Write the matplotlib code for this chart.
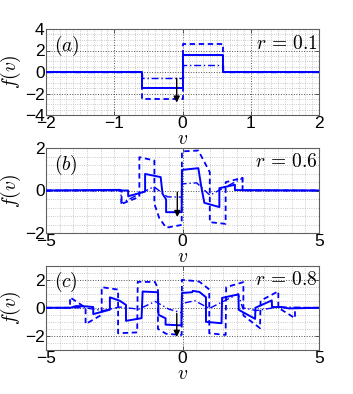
import numpy as np
import matplotlib
matplotlib.use("Agg")
import matplotlib.pyplot as plt
from matplotlib.ticker import MultipleLocator, FixedLocator

plt.rcParams['mathtext.fontset'] = 'cm'
plt.rcParams['font.family'] = ['Liberation Sans', 'DejaVu Sans']

# ---------------- data ----------------
# panel (a), r = 0.1
a_v_solid = [-2, -0.6, -0.6, 0.0, 0.0, 0.6, 0.6, 2]
a_f_solid = [0, 0, -1.45, -1.45, 1.55, 1.55, 0, 0]
a_v_dash = [-2, -0.6, -0.6, 0.0, 0.0, 0.6, 0.6, 2]
a_f_dash = [0, 0, -2.55, -2.55, 2.58, 2.58, 0, 0]
a_v_dd = [-2, -0.6, -0.6, 0.0, 0.0, 0.6, 0.6, 2]
a_f_dd = [0, 0, -0.59, -0.59, 0.62, 0.62, 0, 0]

# panel (b), r = 0.6
b_v_solid = [-5, -2.3, -2.3, -1.99, -1.99, -1.37, -1.37, -0.80, -0.73, -0.60, -0.60,
             -0.03, -0.02, 0.58, 0.68, 0.80, 1.35, 1.35, 1.92, 1.92, 5]
b_f_solid = [0, 0.03, 0.0, 0.0, -0.27, -0.05, 0.78, 0.63, -0.16, -0.42, -1.02,
             -1.02, 0.97, 1.05, 0.24, -0.58, -0.78, 0.11, 0.27, 0.02, 0]
b_v_dash = [-5, -2.23, -2.23, -1.58, -1.58, -1.03, -1.03, -0.85, -0.60, -0.03, -0.02,
            0.58, 1.0, 1.0, 1.58, 1.58, 2.2, 2.2, 5]
b_f_dash = [0, 0, -0.63, -0.30, 1.57, 1.41, -0.63, -1.30, -1.75, -1.62, 1.84,
            1.88, 0.86, -1.49, -1.57, 0.39, 0.60, 0, 0]
b_v_dd = [-5, -2.25, -2.25, -1.05, -0.55, -0.03, -0.02, 0.52, 1.0, 2.2, 2.2, 5]
b_f_dd = [0, 0, -0.6, 0.18, -0.30, -0.31, 0.31, 0.36, -0.22, 0.58, 0, 0]

# panel (c), r = 0.8
c_v_solid = [-5, -4.1, -3.9, -3.55, -3.27, -3.27, -2.66, -2.66, -2.3, -2.07, -2.07,
             -1.50, -1.46, -0.90, -0.88, -0.62, -0.62, -0.04, -0.02, 0.35, 0.38,
             0.62, 0.86, 0.86, 1.43, 1.45, 2.05, 2.06, 2.66, 2.67, 3.27, 3.28,
             3.6, 3.9, 5]
c_f_solid = [0, 0, 0.12, 0.1, 0.05, -0.45, -0.14, 0.74, 0.5, 0.2, -0.93,
             -0.74, 1.15, 1.1, -0.5, -0.75, -1.2, -1.25, 1.05, 1.1, 1.2,
             1.12, 0.75, -1.0, -1.1, 0.7, 0.95, -0.15, -0.79, 0.0, 0.52, 0.05,
             0.05, -0.05, 0]
c_v_dash = [-5, -4.12, -4.12, -3.55, -3.55, -2.96, -2.96, -2.36, -2.36, -1.66, -1.64,
            -1.01, -0.90, -0.90, -0.60, -0.03, -0.02, 0.45, 0.62, 0.98, 0.98, 1.58,
            1.60, 2.23, 2.23, 2.84, 2.86, 3.51, 3.51, 4.12, 4.12, 5]
c_f_dash = [0, 0, 0.74, 0.0, -1.16, -0.5, 1.46, 1.29, -1.81, -1.75, 1.84,
            1.83, 1.4, -1.5, -1.85, -1.93, 1.98, 1.9, 1.85, 1.3, -1.81, -1.93,
            1.46, 1.82, -0.55, -1.45, 0.5, 1.17, 0.0, -0.74, 0, 0]
c_v_dd = [-5, -3.6, -2.9, -2.3, -1.6, -1.0, -0.5, -0.03, -0.02, 0.45, 0.98, 2.04,
          2.2, 2.7, 3.5, 5]
c_f_dd = [0, 0, -0.2, 0.05, -0.1, 0.45, -0.1, -0.35, 0.3, 0.5, -0.05, 0.98,
          0.0, -0.2, 0.05, 0]

arrows = {'a': (-0.085, -0.59, -2.85), 'b': (-0.19, -0.08, -1.25), 'c': (-0.21, -0.4, -2.07)}
labels = ['(a)', '(b)', '(c)']
rvals = ['0.1', '0.6', '0.8']

# ---------------- figure ----------------
fig = plt.figure(figsize=(3.53, 3.94), dpi=100)
W, H = 353, 394
def box(l, t, r, b):
    return [l / W, 1 - b / H, (r - l) / W, (b - t) / H]

axes = [fig.add_axes(box(46, 29, 319, 115)),
        fig.add_axes(box(46, 148, 319, 233)),
        fig.add_axes(box(46, 265.5, 319, 350))]

data = [
    (a_v_solid, a_f_solid, a_v_dash, a_f_dash, a_v_dd, a_f_dd),
    (b_v_solid, b_f_solid, b_v_dash, b_f_dash, b_v_dd, b_f_dd),
    (c_v_solid, c_f_solid, c_v_dash, c_f_dash, c_v_dd, c_f_dd),
]
xlims = [(-2, 2), (-5, 5), (-5, 5)]
ylims = [(-4, 4), (-2, 2), (-3, 3)]
xmaj = [[-2, -1, 0, 1, 2], [-5, 0, 5], [-5, 0, 5]]
ymaj = [[-4, -2, 0, 2, 4], [-2, 0, 2], [-2, 0, 2]]
xmin = [0.1, 0.5, 0.5]
ymin = [0.5, 0.4, 0.5]

for i, ax in enumerate(axes):
    vs, fs, vd, fd, vdd, fdd = data[i]
    ax.plot(vs, fs, '-', color='#0000ff', lw=1.4, zorder=4)
    ax.plot(vd, fd, '--', color='#0000ff', lw=1.3, dashes=(3, 2), zorder=3)
    ax.plot(vdd, fdd, '-.', color='#0000ff', lw=1.0, dashes=(5, 2, 1, 2), zorder=3)
    ax.set_xlim(*xlims[i])
    ax.set_ylim(*ylims[i])
    ax.xaxis.set_major_locator(FixedLocator(xmaj[i]))
    ax.yaxis.set_major_locator(FixedLocator(ymaj[i]))
    ax.xaxis.set_minor_locator(MultipleLocator(xmin[i]))
    ax.yaxis.set_minor_locator(MultipleLocator(ymin[i]))
    ax.grid(which='minor', ls=':', color='#b8b8b8', lw=0.6)
    ax.grid(which='major', ls=':', color='#505050', lw=0.7)
    ax.set_axisbelow(True)
    ax.tick_params(which='major', direction='in', length=3, top=True, right=True,
                   labelsize=12.5, pad=1, color='#404040', width=0.6)
    ax.tick_params(which='minor', length=0)
    for s in ax.spines.values():
        s.set_color('#606060')
        s.set_linewidth(0.8)
    av, y0, y1 = arrows['abc'[i]]
    ax.annotate('', xy=(av, y1), xytext=(av, y0),
                arrowprops=dict(arrowstyle='-|>', color='k', lw=1.0,
                                mutation_scale=9, shrinkA=0, shrinkB=0), zorder=6)
    ax.set_xlabel(r'$v$', fontsize=14, labelpad=0)
    ax.set_ylabel(r'$f(v)$', fontsize=14, labelpad=1)
    ax.text(0.03, 0.80, r'$' + labels[i] + '$', transform=ax.transAxes,
            fontsize=14, va='center', ha='left')
    ax.text(0.995, 0.83, r'$r\,=\,' + rvals[i] + '$', transform=ax.transAxes,
            fontsize=14, va='center', ha='right')

fig.savefig('out.png', dpi=100)
